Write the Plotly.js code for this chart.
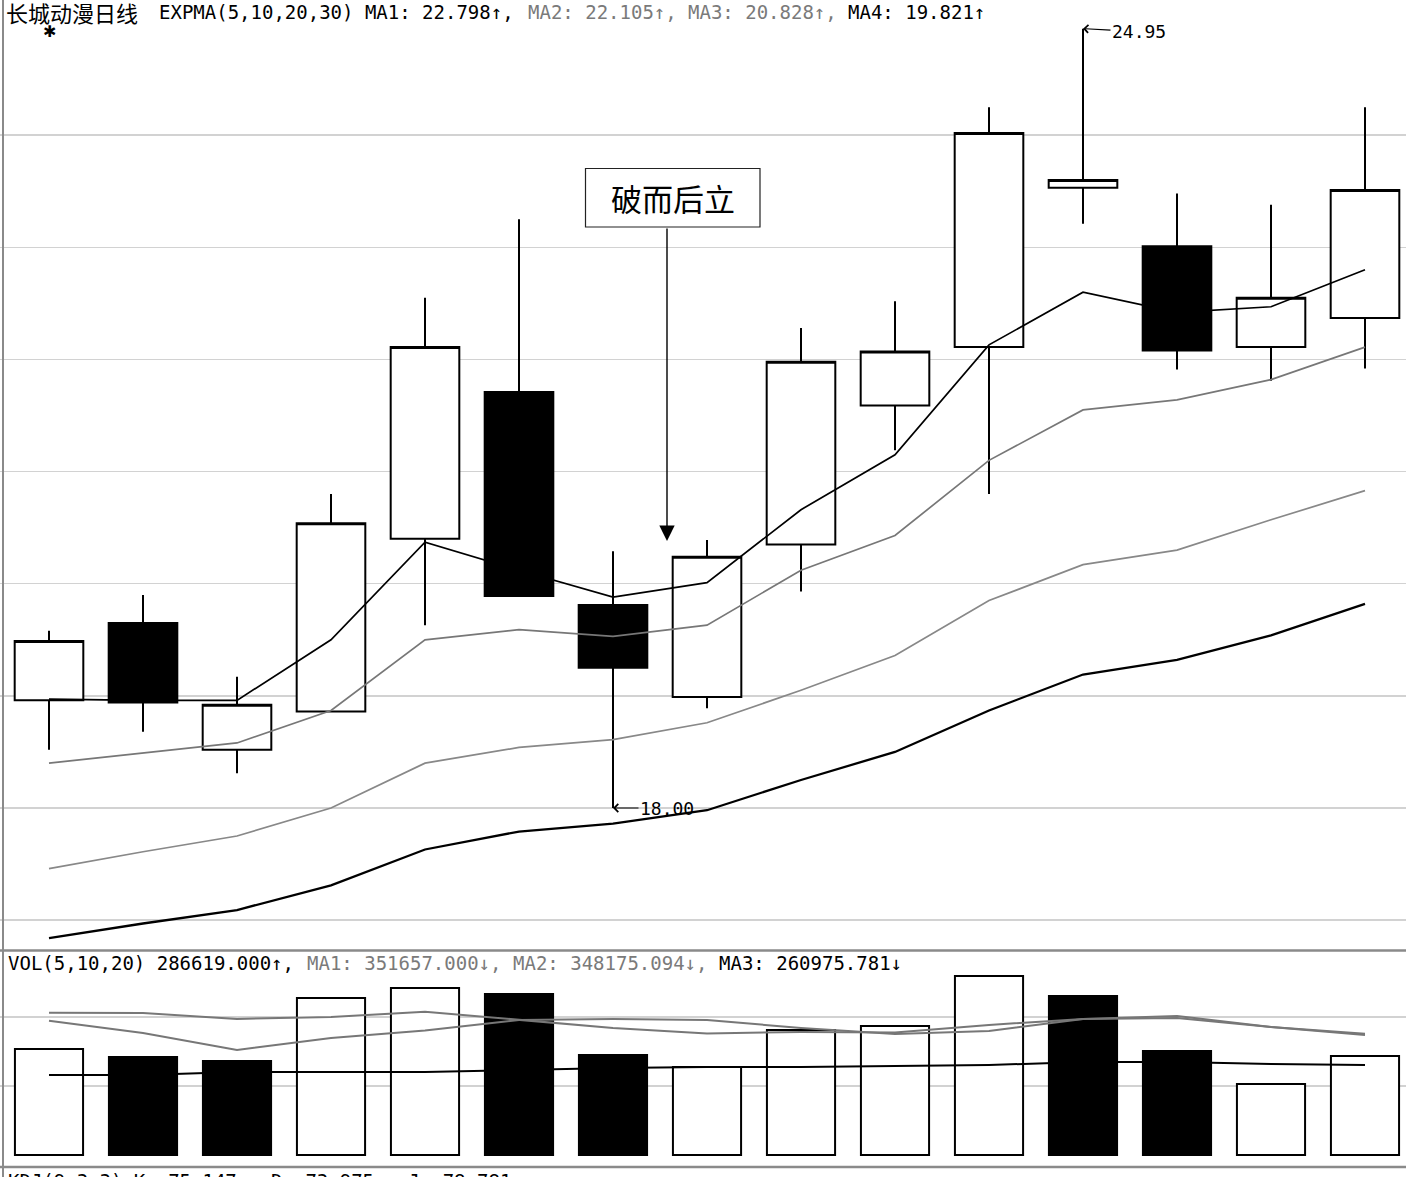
<!DOCTYPE html>
<html><head><meta charset="utf-8">
<script src="https://cdn.plot.ly/plotly-3.0.1.min.js"></script>
<style>html,body{margin:0;padding:0;background:#fff}#chart{width:1406px;height:1177px}</style>
</head><body><div id="chart"></div>
<script>
// ---- data ----
const dayIndex = [0,1,2,3,4,5,6,7,8,9,10,11,12,13,14];
const openP  = [18.96,19.65,18.52,18.86,20.40,21.71,19.81,18.99,20.35,21.59,22.11,23.53,23.01,22.11,22.37];
const highP  = [19.58,19.90,19.17,20.80,22.55,23.25,20.29,20.39,22.28,22.52,24.25,24.95,23.48,23.38,24.25];
const lowP   = [18.52,18.68,18.31,18.86,19.63,19.89,18.00,18.89,19.93,21.19,20.80,23.21,21.91,21.81,21.92];
const closeP = [19.49,18.94,18.92,20.54,22.11,19.89,19.25,20.24,21.98,22.07,24.02,23.60,22.08,22.55,23.51];

const expma5  = [18.97,18.96,18.96,19.50,20.37,20.12,19.88,20.01,20.66,21.15,22.13,22.60,22.42,22.47,22.80];
const expma10 = [18.40,18.49,18.58,18.87,19.50,19.59,19.53,19.63,20.12,20.43,21.10,21.55,21.64,21.82,22.11];
const expma20 = [17.46,17.61,17.75,18.00,18.40,18.54,18.61,18.76,19.05,19.36,19.85,20.17,20.30,20.57,20.83];
const expma30 = [16.84,16.97,17.09,17.31,17.63,17.79,17.86,17.98,18.25,18.50,18.87,19.19,19.32,19.54,19.82];

const volume = [307300,284100,272500,455100,484100,466700,289900,255100,362400,374000,518900,460900,301500,205800,286619];
// bar colour as drawn in the picture (up = hollow, down = solid)
const volDirection = ["up","down","down","up","up","down","down","up","up","up","up","down","down","up","up"];
const volMa5  = [389300,353700,304400,339200,360600,391400,394300,391400,368200,350800,359500,394300,403000,371100,351657];
const volMa10 = [412500,411700,394300,400100,415400,391400,368200,352200,356600,355100,376900,394300,397200,371100,348175];
const volMa20 = [231900,231900,240600,240600,240600,246400,252200,255100,255100,258000,260900,269600,269600,263800,260976];

const priceGrid = [17,18,19,20,21,22,23,24];
const volGrid = [200000,400000];

const lowLabel = "18.00";
const highLabel = "24.95";
const noteText = "破而后立";

// ---- layout helpers ----
const W = 1406, H = 1177;
const px = x => x / W;
const py = y => 1 - y / H;
const MONO = "DejaVu Sans Mono";

const volColors = volDirection.map(d => d === "up" ? "#ffffff" : "#000000");

const traces = [
  {
    type: "candlestick", x: dayIndex, open: openP, high: highP, low: lowP, close: closeP,
    xaxis: "x", yaxis: "y",
    increasing: {line: {color: "#000", width: 2}, fillcolor: "#ffffff"},
    decreasing: {line: {color: "#000", width: 2}, fillcolor: "#000000"},
    whiskerwidth: 0, hoverinfo: "skip", showlegend: false
  },
  {type: "scatter", mode: "lines", x: dayIndex, y: expma5, xaxis: "x", yaxis: "y", line: {color: "#000", width: 1.7}, hoverinfo: "skip", showlegend: false},
  {type: "scatter", mode: "lines", x: dayIndex, y: expma10, xaxis: "x", yaxis: "y", line: {color: "#777", width: 1.7}, hoverinfo: "skip", showlegend: false},
  {type: "scatter", mode: "lines", x: dayIndex, y: expma20, xaxis: "x", yaxis: "y", line: {color: "#888", width: 1.7}, hoverinfo: "skip", showlegend: false},
  {type: "scatter", mode: "lines", x: dayIndex, y: expma30, xaxis: "x", yaxis: "y", line: {color: "#000", width: 2.3}, hoverinfo: "skip", showlegend: false},
  {
    type: "bar", x: dayIndex, y: volume, xaxis: "x2", yaxis: "y2", width: 0.725,
    marker: {color: volColors, line: {color: "#000", width: 2}}, hoverinfo: "skip", showlegend: false
  },
  {type: "scatter", mode: "lines", x: dayIndex, y: volMa5, xaxis: "x2", yaxis: "y2", line: {color: "#777", width: 2}, hoverinfo: "skip", showlegend: false},
  {type: "scatter", mode: "lines", x: dayIndex, y: volMa10, xaxis: "x2", yaxis: "y2", line: {color: "#777", width: 2}, hoverinfo: "skip", showlegend: false},
  {type: "scatter", mode: "lines", x: dayIndex, y: volMa20, xaxis: "x2", yaxis: "y2", line: {color: "#000", width: 2}, hoverinfo: "skip", showlegend: false}
];

const xRange = [-49/94, 14 + 41/94];
const pxPerUnit = 112.14;
const yTop = 18 + 808 / pxPerUnit, yBot = 18 - 142 / pxPerUnit;
const volPerPx = 200000 / 69;

const hdr = (text, x, y, color, size, family) => ({
  text, xref: "paper", yref: "paper", x: px(x), y: py(y), xanchor: "left", yanchor: "middle",
  showarrow: false, font: {family: family || MONO, size: size || 19, color}
});

const layout = {
  width: W, height: H,
  margin: {l: 0, r: 0, t: 0, b: 0},
  paper_bgcolor: "#fff", plot_bgcolor: "#fff",
  showlegend: false,
  boxgap: 0.27, boxgroupgap: 0,
  xaxis: {domain: [0, 1], range: xRange, anchor: "y", visible: false, rangeslider: {visible: false}, fixedrange: true},
  xaxis2: {domain: [0, 1], range: xRange, anchor: "y2", visible: false, matches: "x"},
  yaxis: {domain: [py(950), 1], range: [yBot, yTop], tickmode: "array", tickvals: priceGrid,
          showticklabels: false, ticks: "", showgrid: true, gridcolor: "#d2d2d2", gridwidth: 1.5, zeroline: false, showline: false},
  yaxis2: {domain: [py(1160), py(952)], range: [-5 * volPerPx, 203 * volPerPx], tickmode: "array", tickvals: volGrid,
           showticklabels: false, ticks: "", showgrid: true, gridcolor: "#d2d2d2", gridwidth: 1.5, zeroline: false, showline: false},
  shapes: [
    {type: "line", xref: "paper", yref: "paper", x0: px(3), x1: px(3), y0: 0, y1: 1, line: {color: "#8a8a8a", width: 2}},
    {type: "line", xref: "paper", yref: "paper", x0: 0, x1: 1, y0: py(950.5), y1: py(950.5), line: {color: "#8a8a8a", width: 2.5}},
    {type: "line", xref: "paper", yref: "paper", x0: 0, x1: 1, y0: py(1167), y1: py(1167), line: {color: "#8a8a8a", width: 2.5}},
    {type: "rect", xref: "paper", yref: "paper", x0: px(585.5), x1: px(760), y0: py(227), y1: py(168.5), line: {color: "#222", width: 1.2}, fillcolor: "#fff"}
  ],
  annotations: [
    hdr("长城动漫日线", 4, 12, "#000", 22, "Noto Sans CJK SC"),
    hdr("EXPMA(5,10,20,30) MA1: 22.798↑,", 157, 12, "#000"),
    hdr("MA2: 22.105↑,", 526, 12, "#7a7a7a"),
    hdr("MA3: 20.828↑,", 686, 12, "#7a7a7a"),
    hdr("MA4: 19.821↑", 846, 12, "#000"),
    hdr("VOL(5,10,20) 286619.000↑,", 6, 963, "#000"),
    hdr("MA1: 351657.000↓,", 305, 963, "#7a7a7a"),
    hdr("MA2: 348175.094↓,", 511, 963, "#7a7a7a"),
    hdr("MA3: 260975.781↓", 717, 963, "#000"),
    hdr("KDJ(9,3,3) K: 75.147↑, D: 73.975↑, J: 78.781↑", 6, 1181, "#000"),
    {text: "✱", xref: "paper", yref: "paper", x: px(49), y: py(31), xanchor: "center", yanchor: "middle", showarrow: false,
     font: {family: "DejaVu Sans", size: 16, color: "#000"}},
    {text: noteText, xref: "paper", yref: "paper", x: px(672.5), y: py(197), xanchor: "center", yanchor: "middle", showarrow: false,
     font: {family: "Noto Sans CJK SC", size: 31, color: "#000"}},
    {text: "", xref: "x", yref: "y", x: 6 + (667 - 613) / 94, y: 18 + (808 - 541) / pxPerUnit,
     showarrow: true, ax: 0, ay: -(541 - 227), arrowhead: 2, arrowsize: 2.2, arrowwidth: 1.4, arrowcolor: "#000"},
    {text: lowLabel, xref: "x", yref: "y", x: dayIndex[6], y: lowP[6], showarrow: true, ax: 54, ay: 0,
     arrowhead: 4, arrowsize: 1.3, arrowwidth: 1.2, arrowcolor: "#000", standoff: 0,
     font: {family: MONO, size: 18, color: "#000"}},
    {text: highLabel, xref: "x", yref: "y", x: dayIndex[11], y: highP[11], showarrow: true, ax: 56, ay: 3,
     arrowhead: 4, arrowsize: 1.3, arrowwidth: 1.2, arrowcolor: "#000", standoff: 0,
     font: {family: MONO, size: 18, color: "#000"}}
  ]
};

Plotly.newPlot("chart", traces, layout, {staticPlot: true, displayModeBar: false});
</script>
</body></html>
